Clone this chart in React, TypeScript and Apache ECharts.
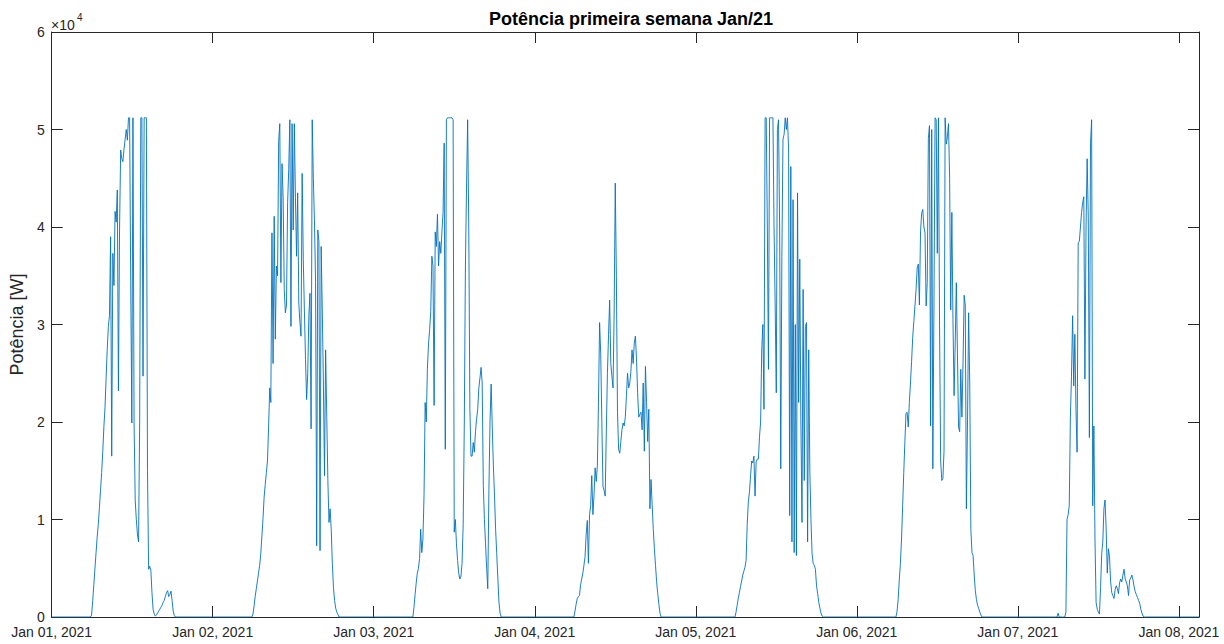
import React, { useEffect, useRef } from "react";
import * as echarts from "echarts";

const chartTitle = "Potência primeira semana Jan/21";
const yAxisTitle = "Potência [W]";
const yExponentBase = "×10";
const yExponent = "4";
const dayLabels = [
  "Jan 01, 2021",
  "Jan 02, 2021",
  "Jan 03, 2021",
  "Jan 04, 2021",
  "Jan 05, 2021",
  "Jan 06, 2021",
  "Jan 07, 2021",
  "Jan 08, 2021",
];
const yTickDivisor = 10000;
const yMax = 60000;
const axisEndHours = 171;
const sampleStepHours = 10 / 60;
const dayStartHours = [5.78, 5.83, 5.83, 5.83, 5.83, 5.83, 5.83];

const day1 = [
  0, 200, 1700, 3300, 5000, 6600, 8200, 9500, 11200, 13000,
  14800, 17000, 19500, 21500, 24500, 27500, 29800, 30900, 39000, 16500,
  37300, 34000, 41600, 40500, 43800, 23200, 39700, 47900, 47000, 46700,
  48000, 49000, 50000, 48900, 51200, 51200, 34300, 19900, 51200, 20000,
  12000, 10000, 8500, 7700, 20000, 51200, 51200, 24700, 51200, 51200,
  51200, 15000, 4900, 5200, 4800, 2500, 800, 300, 100, 200,
  400, 600, 800, 1000, 1200, 1500, 1700, 2100, 2500, 2700,
  2100, 2300, 2650, 1700, 600, 150, 0,
];
const day2 = [
  0, 300, 1100, 2100, 2900, 3700, 4500, 5300, 6500, 8300,
  10100, 12300, 13600, 14800, 16000, 19500, 23500, 22000, 39400, 26000,
  41100, 28500, 36000, 35000, 48800, 50600, 34300, 46500, 43000, 33600,
  31200, 32000, 42500, 45900, 51000, 29800, 50600, 39700, 50600, 43000,
  37000, 43500, 32200, 30200, 28800, 45500, 36700, 31500, 26400, 22300,
  25000, 30900, 33200, 19300, 51000, 45000, 40700, 34300, 7300, 39700,
  38500, 6800, 38000, 31500, 24000, 14500, 27400, 20600, 14000, 9700,
  11100, 9000, 5500, 3000, 1700, 900, 500, 250, 0,
];
const day3 = [
  0, 1000, 2300, 3500, 4500, 5000, 6000, 9000, 6600, 8000,
  12500, 22000, 20000, 25500, 28000, 29500, 31300, 37000, 36000, 21700,
  39500, 38000, 41300, 36000, 38500, 37300, 39500, 41500, 48600, 17200,
  51000, 51200, 51200, 51200, 51200, 51200, 51000, 8700, 10000, 7500,
  5800, 4500, 3900, 4200, 5500, 9500, 19600, 36000, 44000, 51000,
  40000, 21300, 16500, 16500, 17900, 16900, 19000, 20300, 21300, 23500,
  24500, 25600, 24000, 13500, 10000, 7500, 5000, 2900, 13000, 20000,
  23900, 19500, 15500, 12500, 9000, 6500, 4000, 1500, 400, 0,
];
const day4 = [
  0, 600, 1300, 1900, 2100, 2200, 3300, 3900, 4500, 5300,
  6200, 8500, 9900, 5500, 10500, 11400, 14500, 10500, 12500, 15300,
  13900, 15500, 22000, 30200, 27000, 20000, 13400, 13000, 12400, 19000,
  25000, 29000, 32500, 26000, 24700, 23500, 31000, 44500, 35000, 21000,
  17200, 16800, 18000, 19200, 19900, 19600, 20500, 22700, 25000, 23500,
  24000, 25200, 27400, 26000, 28100, 28800, 26500, 23000, 20500, 20800,
  21000, 19200, 24000, 17000, 25700, 22000, 18000, 21300, 11100, 14100,
  11500, 9000, 7000, 5300, 3600, 2400, 1300, 400, 0,
];
const day5 = [
  0, 500, 1200, 1900, 2500, 3100, 3700, 4300, 4700, 5100,
  5800, 9500, 11800, 12800, 14500, 16000, 15800, 16500, 12400, 15900,
  16200, 16200, 18500, 20000, 27500, 30000, 21300, 51200, 51200, 40000,
  25400, 51200, 51200, 51200, 51200, 40000, 32000, 23000, 50000, 51000,
  40000, 15200, 37000, 49000, 49500, 51200, 50000, 51200, 48000, 10400,
  46200, 7700, 42800, 6600, 30000, 6300, 43500, 22000, 36700, 20000,
  9700, 33600, 14000, 29800, 30200, 7700, 27400, 15000, 10000, 6500,
  5500, 5300, 4900, 3200, 2400, 1500, 900, 400, 100, 0,
];
const day6 = [
  0, 600, 1800, 3800, 5500, 8000, 11400, 14800, 18000, 20900,
  21000, 19500, 22000, 24000, 26200, 28700, 30300, 31900, 33600, 35800,
  36200, 32000, 39500, 41400, 41800, 40000, 39400, 31900, 34300, 49100,
  50400, 19600, 50000, 15200, 32000, 51200, 51000, 37300, 51200, 30000,
  16000, 14000, 14200, 17000, 51200, 48500, 49200, 50600, 45000, 31500,
  41500, 30500, 22700, 28000, 34300, 27000, 19500, 19000, 25400, 20500,
  26000, 33000, 32000, 11100, 20000, 31200, 24000, 9000, 6600, 6300,
  4300, 2700, 1800, 1200, 900, 500, 200, 0,
];
const day7 = [
  0, 400, 0, 0, 0, 0, 0, 0, 500, 10000,
  10500, 11400, 20500, 24700, 30900, 23700, 29000, 21300, 16900, 38400,
  38500, 40000, 41500, 42500, 43100, 24400, 40000, 47000, 41000, 18400,
  48600, 51000, 11400, 19600, 8000, 1500, 800, 500, 300, 3000,
  6500, 7700, 11100, 12000, 9000, 4500, 7000, 6200, 3600, 2500,
  2200, 1900, 2800, 3200, 2900, 2400, 3500, 3900, 3600, 4300,
  4900, 3900, 3600, 3200, 2200, 3800, 4000, 4300, 3800, 3100,
  2600, 2300, 2000, 1700, 1400, 800, 400, 100, 0,
];
const dailyValues = [day1, day2, day3, day4, day5, day6, day7];

const FONT = "'Liberation Sans', Arial, Helvetica, sans-serif";
const AXIS_COLOR = "#262626";

function buildSeries(): number[][] {
  const pts: number[][] = [[0, 0]];
  dailyValues.forEach((vals, d) => {
    vals.forEach((v, k) => {
      pts.push([d * 24 + dayStartHours[d] + k * sampleStepHours, v]);
    });
  });
  pts.push([axisEndHours, 0]);
  return pts;
}

export default function App() {
  const ref = useRef<HTMLDivElement>(null);
  useEffect(() => {
    if (!ref.current) return;
    const chart = echarts.init(ref.current, undefined, { renderer: "svg" });
    const axisLine = { show: true, onZero: false, lineStyle: { color: AXIS_COLOR, width: 1 } };
    const axisTick = { show: true, inside: true, length: 11, lineStyle: { color: AXIS_COLOR, width: 1 } };
    const dayFormatter = (v: number) => (v % 24 === 0 ? dayLabels[v / 24] ?? "" : "");
    chart.setOption({
      animation: false,
      backgroundColor: "#ffffff",
      title: {
        text: chartTitle,
        left: 626,
        top: 5,
        textAlign: "center",
        textStyle: { fontFamily: FONT, fontSize: 18, fontWeight: "bold", color: "#000000" },
      },
      grid: { left: 51, right: 25, top: 32, bottom: 27, containLabel: false },
      xAxis: [
        {
          type: "value",
          position: "bottom",
          min: 0,
          max: axisEndHours,
          interval: 24,
          axisLine,
          axisTick,
          splitLine: { show: false },
          axisLabel: {
            formatter: dayFormatter,
            fontFamily: FONT,
            fontSize: 14,
            color: AXIS_COLOR,
            margin: 8,
            showMaxLabel: false,
          },
        },
        {
          type: "value",
          position: "top",
          min: 0,
          max: axisEndHours,
          interval: 24,
          axisLine,
          axisTick,
          splitLine: { show: false },
          axisLabel: { show: false },
        },
      ],
      yAxis: [
        {
          type: "value",
          position: "left",
          min: 0,
          max: yMax,
          interval: yTickDivisor,
          axisLine,
          axisTick,
          splitLine: { show: false },
          axisLabel: {
            formatter: (v: number) => String(v / yTickDivisor),
            fontFamily: FONT,
            fontSize: 14,
            color: AXIS_COLOR,
            margin: 7,
          },
          name: yAxisTitle,
          nameLocation: "middle",
          nameGap: 22,
          nameTextStyle: { fontFamily: FONT, fontSize: 18, color: AXIS_COLOR },
        },
        {
          type: "value",
          position: "right",
          min: 0,
          max: yMax,
          interval: yTickDivisor,
          axisLine,
          axisTick,
          splitLine: { show: false },
          axisLabel: { show: false },
        },
      ],
      graphic: [
        {
          type: "text",
          left: 51,
          top: 18,
          style: { text: yExponentBase, font: `14px ${FONT}`, fill: AXIS_COLOR },
        },
        {
          type: "text",
          left: 77,
          top: 12,
          style: { text: yExponent, font: `10px ${FONT}`, fill: AXIS_COLOR },
        },
      ],
      series: [
        {
          type: "line",
          xAxisIndex: 0,
          yAxisIndex: 0,
          data: buildSeries(),
          showSymbol: false,
          symbol: "none",
          lineStyle: { color: "#0072BD", width: 0.9 },
          z: 3,
        },
      ],
    });
    return () => chart.dispose();
  }, []);
  return (
    <div
      ref={ref}
      style={{ position: "fixed", left: 0, top: 0, width: 1224, height: 644, background: "#fff" }}
    />
  );
}
